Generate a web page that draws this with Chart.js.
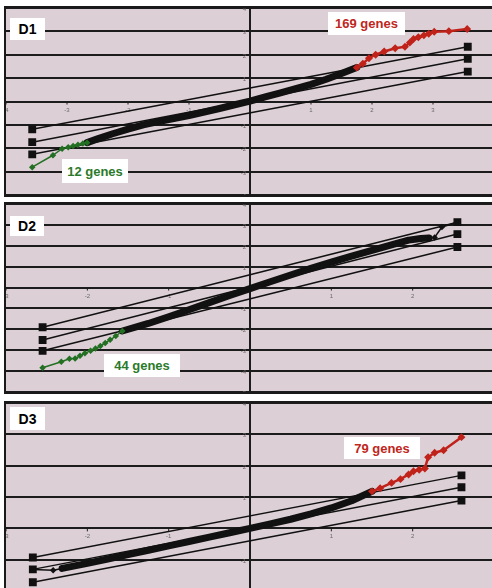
<!DOCTYPE html>
<html>
<head>
<meta charset="utf-8">
<script src="https://cdn.jsdelivr.net/npm/chart.js@4.4.1/dist/chart.umd.min.js"></script>
<style>
    body { margin: 0; width: 492px; height: 588px; overflow: hidden; position: relative; background: #fff; font-family: "Liberation Sans", Arial, sans-serif; }
    .panel { position: absolute; left: 4px; width: 488px; border: 2px solid #1a1a1a; background: #dccfd5; }
    .panel canvas { display: block; }
    .tag { position: absolute; background: #fff; font-weight: bold; font-size: 13px; display: flex; align-items: center; justify-content: center; }
</style>
</head>
<body>
<div class="panel" style="top:6px;height:187px"><canvas id="chartD1" width="488" height="187"></canvas></div>
<div class="panel" style="top:202px;height:188px"><canvas id="chartD2" width="488" height="188"></canvas></div>
<div class="panel" style="top:401px;height:188px"><canvas id="chartD3" width="488" height="188"></canvas></div>

<div class="tag" id="nameD1" style="left:10px;top:18px;width:35px;height:22px;font-size:14px"></div>
<div class="tag" id="lowD1" style="left:62px;top:159px;width:66px;height:24px;color:#2b7a2b"></div>
<div class="tag" id="highD1" style="left:328px;top:12px;width:77px;height:23px;color:#c0261c"></div>
<div class="tag" id="nameD2" style="left:10px;top:216px;width:34px;height:20px;font-size:14px"></div>
<div class="tag" id="lowD2" style="left:104px;top:354px;width:76px;height:23px;color:#2b7a2b"></div>
<div class="tag" id="nameD3" style="left:10px;top:407px;width:35px;height:23px;font-size:14px"></div>
<div class="tag" id="highD3" style="left:344px;top:437px;width:76px;height:22px;color:#c0261c"></div>

<script>
// panel names and gene counts
const panelNames = ['D1', 'D2', 'D3'];
const geneLabels = { lowD1: '12 genes', highD1: '169 genes', lowD2: '44 genes', highD3: '79 genes' };

// D1 (x -4..4, y -4..4)
const d1LineX = [-3.57, 3.57];
const d1Upper = [-1.19, 2.34];
const d1Middle = [-1.74, 1.83];
const d1Lower = [-2.26, 1.28];
const d1Green = [[-3.57, -2.81], [-3.23, -2.30], [-3.08, -2.02], [-2.98, -1.96], [-2.90, -1.90], [-2.82, -1.85], [-2.74, -1.80], [-2.67, -1.76]];
const d1Body = [[-2.67, -1.76], [-2.5, -1.6], [-2.25, -1.38], [-2.0, -1.18], [-1.75, -1.0], [-1.5, -0.86], [-1.25, -0.73], [-1.0, -0.6],
    [-0.75, -0.45], [-0.5, -0.3], [-0.25, -0.14], [0, 0.02], [0.25, 0.2], [0.5, 0.37], [0.75, 0.55], [1.0, 0.73], [1.25, 0.95], [1.5, 1.2], [1.75, 1.45]];
const d1Red = [[1.75, 1.45], [1.85, 1.62], [1.95, 1.85], [2.06, 2.0], [2.2, 2.14], [2.38, 2.28], [2.54, 2.34], [2.62, 2.52], [2.68, 2.67],
    [2.76, 2.75], [2.85, 2.83], [2.93, 2.9], [3.02, 2.98], [3.26, 3.01], [3.56, 3.1]];

// D2 (x -3..3, y -5..4)
const d2LineX = [-2.55, 2.55];
const d2Upper = [-1.9, 3.13];
const d2Middle = [-2.51, 2.56];
const d2Lower = [-3.03, 1.94];
const d2Green = [[-2.55, -3.84], [-2.32, -3.55], [-2.22, -3.41], [-2.15, -3.4], [-2.09, -3.27], [-2.03, -3.15], [-1.96, -3.02], [-1.9, -2.92],
    [-1.84, -2.8], [-1.78, -2.65], [-1.72, -2.5], [-1.65, -2.32], [-1.57, -2.08]];
const d2Body = [[-1.57, -2.08], [-1.25, -1.72], [-1.0, -1.4], [-0.75, -1.06], [-0.5, -0.72], [-0.25, -0.38], [0, -0.05], [0.25, 0.28],
    [0.5, 0.6], [0.75, 0.92], [1.0, 1.22], [1.25, 1.5], [1.5, 1.78], [1.75, 2.05], [1.95, 2.27], [2.1, 2.35], [2.2, 2.37]];
const d2Tail = [[2.2, 2.37], [2.27, 2.4], [2.36, 2.9], [2.55, 3.13]];

// D3 (x -3..3, y -2..4)
const d3LineX = [-2.67, 2.6];
const d3Upper = [-0.93, 1.69];
const d3Middle = [-1.31, 1.31];
const d3Lower = [-1.72, 0.89];
const d3Tail = [[-2.67, -1.31], [-2.42, -1.34], [-2.31, -1.28]];
const d3Body = [[-2.31, -1.28], [-2.0, -1.12], [-1.75, -0.98], [-1.5, -0.84], [-1.25, -0.7], [-1.0, -0.56], [-0.75, -0.42], [-0.5, -0.28],
    [-0.25, -0.14], [0, 0.0], [0.25, 0.14], [0.5, 0.29], [0.75, 0.46], [1.0, 0.65], [1.25, 0.88], [1.5, 1.18]];
const d3Red = [[1.5, 1.18], [1.6, 1.28], [1.74, 1.45], [1.85, 1.57], [1.95, 1.72], [2.01, 1.82], [2.08, 1.87], [2.15, 1.91],
    [2.19, 2.27], [2.27, 2.41], [2.38, 2.49], [2.6, 2.91]];

const GREEN = '#237023', RED = '#c0221a', INK = '#111';

const toPts = arr => arr.map(p => ({ x: p[0], y: p[1] }));
const linePts = (xs, ys) => xs.map((x, i) => ({ x, y: ys[i] }));

// draws grid, axes and the tiny tick labels of the Excel-style plot
const framePlugin = {
    id: 'frame',
    beforeDatasetsDraw(chart) {
        const { ctx, chartArea: a, scales: { x, y } } = chart;
        ctx.save();
        ctx.strokeStyle = '#1c1c1c';
        ctx.lineWidth = 2;
        for (let v = y.min; v <= y.max; v++) {
            const py = Math.round(y.getPixelForValue(v));
            ctx.beginPath(); ctx.moveTo(a.left, py); ctx.lineTo(a.right, py); ctx.stroke();
        }
        const px0 = Math.round(x.getPixelForValue(0));
        ctx.beginPath(); ctx.moveTo(px0, a.top); ctx.lineTo(px0, a.bottom); ctx.stroke();

        const py0 = y.getPixelForValue(0);
        ctx.fillStyle = '#6a6a6a';
        ctx.font = '6px "Liberation Sans"';
        ctx.lineWidth = 1;
        ctx.textAlign = 'center';
        for (let v = Math.ceil(x.min); v <= x.max; v++) {
            if (v === 0) continue;
            const px = x.getPixelForValue(v);
            ctx.beginPath(); ctx.moveTo(px, py0); ctx.lineTo(px, py0 + 3); ctx.stroke();
            ctx.fillText(String(v), px, py0 + 10);
        }
        ctx.textAlign = 'right';
        for (let v = y.min; v <= y.max; v++) {
            if (v === 0) continue;
            ctx.fillText(String(v), px0 - 4, y.getPixelForValue(v) + 3);
        }
        ctx.restore();
    }
};

function refLine(xs, ys) {
    return { data: linePts(xs, ys), showLine: true, borderColor: INK, backgroundColor: INK, borderWidth: 1.5,
             pointStyle: 'rect', pointRadius: 4.5, pointHoverRadius: 4.5 };
}
function curve(pts, color, width, radius) {
    return { data: toPts(pts), showLine: true, borderColor: color, backgroundColor: color, borderWidth: width,
             borderCapStyle: 'round', borderJoinStyle: 'round',
             pointStyle: 'rectRot', pointRadius: radius, pointHoverRadius: radius };
}

function makePanel(id, xr, yr, datasets) {
    return new Chart(document.getElementById(id).getContext('2d'), {
        type: 'scatter',
        data: { datasets },
        options: {
            responsive: false,
            animation: false,
            devicePixelRatio: 1,
            layout: { padding: 0, autoPadding: false },
            plugins: { legend: { display: false }, tooltip: { enabled: false } },
            scales: {
                x: { type: 'linear', min: xr[0], max: xr[1], display: false },
                y: { type: 'linear', min: yr[0], max: yr[1], display: false },
            },
        },
        plugins: [framePlugin],
    });
}

document.addEventListener('DOMContentLoaded', () => {
    panelNames.forEach(n => { document.getElementById('name' + n).textContent = n; });
    Object.keys(geneLabels).forEach(k => { document.getElementById(k).textContent = geneLabels[k]; });

    makePanel('chartD1', [-4, 4], [-4, 4], [
        curve(d1Green, GREEN, 1.5, 2.2),
        curve(d1Red, RED, 2.5, 2.2),
        curve(d1Body, INK, 7, 0),
        refLine(d1LineX, d1Upper),
        refLine(d1LineX, d1Middle),
        refLine(d1LineX, d1Lower),
    ]);
    makePanel('chartD2', [-3, 3], [-5, 4], [
        curve(d2Green, GREEN, 1.5, 2.2),
        curve(d2Tail, INK, 1.5, 2.2),
        curve(d2Body, INK, 7, 0),
        refLine(d2LineX, d2Upper),
        refLine(d2LineX, d2Middle),
        refLine(d2LineX, d2Lower),
    ]);
    makePanel('chartD3', [-3, 3], [-2, 4], [
        curve(d3Tail, INK, 1.5, 2.2),
        curve(d3Red, RED, 2.5, 2.2),
        curve(d3Body, INK, 7, 0),
        refLine(d3LineX, d3Upper),
        refLine(d3LineX, d3Middle),
        refLine(d3LineX, d3Lower),
    ]);
});
</script>
</body>
</html>
